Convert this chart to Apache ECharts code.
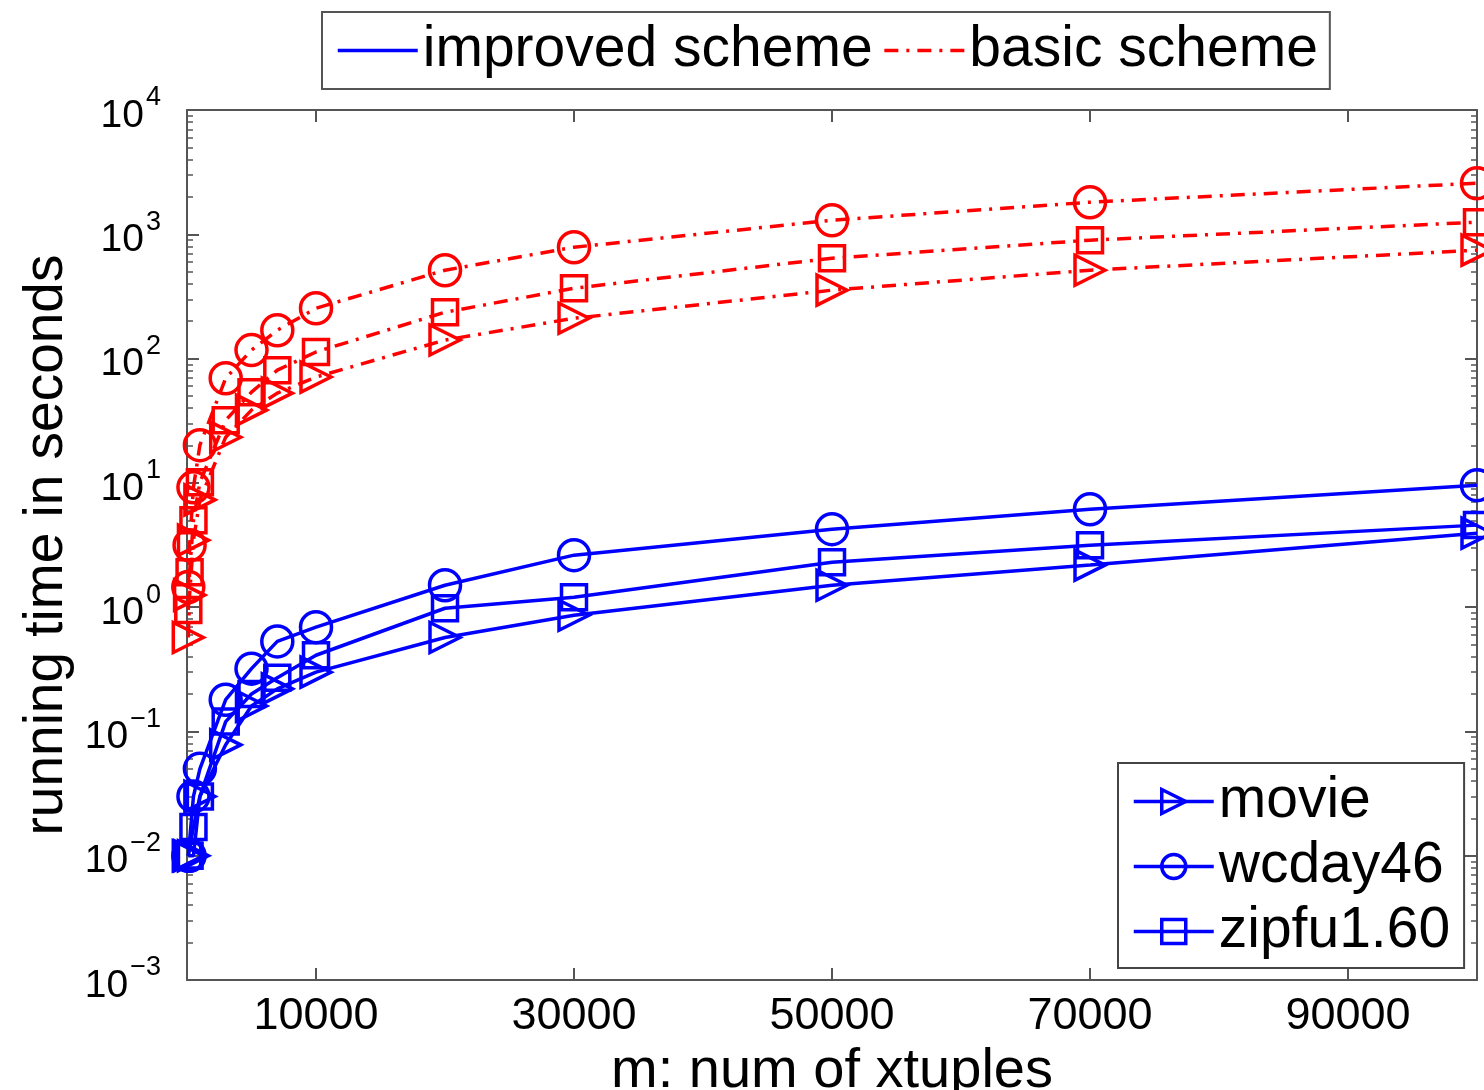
<!DOCTYPE html>
<html>
<head>
<meta charset="utf-8">
<script src="https://cdn.jsdelivr.net/npm/echarts@6/dist/echarts.min.js"></script>
<style>
    html, body { margin: 0; padding: 0; background: #fff; }
    #chart { width: 1484px; height: 1090px; }
</style>
</head>
<body>
<div id="chart"></div>
<script>
// m values (number of xtuples)
var xValues = [100, 200, 500, 1000, 3000, 5000, 7000, 10000, 20000, 30000, 50000, 70000, 100000];

// improved scheme (blue, solid)
var movieImproved = [0.01, 0.01, 0.01, 0.03, 0.078, 0.16, 0.22, 0.30, 0.57, 0.86, 1.50, 2.18, 3.94];
var wcdayImproved = [0.01, 0.01, 0.03, 0.05, 0.18, 0.32, 0.53, 0.69, 1.50, 2.62, 4.24, 6.14, 9.58];
var zipfuImproved = [0.01, 0.01, 0.017, 0.03, 0.12, 0.20, 0.27, 0.41, 0.98, 1.20, 2.30, 3.15, 4.57];

// basic scheme (red, dash-dot)
var movieBasic = [0.57, 1.25, 3.46, 7.3, 23.3, 38.5, 52.7, 71, 141, 211, 355, 514, 745];
var wcdayBasic = [1.45, 3.15, 9.2, 20.1, 69.5, 117, 169, 254, 514, 787, 1298, 1812, 2577];
var zipfuBasic = [0.95, 1.91, 5.0, 10.1, 31.9, 53.7, 80.7, 113, 236, 368, 642, 897, 1251];

var xTicks = [10000, 30000, 50000, 70000, 90000];
var yTicks = [0.001, 0.01, 0.1, 1, 10, 100, 1000, 10000];
var yMinorTicks = [];
yTicks.slice(0, -1).forEach(function (t) {
    for (var k = 2; k <= 9; k++) {
        yMinorTicks.push(+(t * k).toPrecision(3));
    }
});

var BLUE = "#0000ff";
var RED = "#ff0000";
var AXIS = "#555";
var FONT = "Liberation Sans, Arial, Helvetica, sans-serif";
var DASHDOT = [14, 8, 3, 8];
var LINE_W = 3.5;
var NO_MARK = { color: "rgba(0,0,0,0)", borderColor: "rgba(0,0,0,0)", borderWidth: 0 };

function pairs(ys) {
    return xValues.map(function (x, i) {
        return [x, ys[i]];
    });
}

function expLabel(v) {
    var e = Math.round(Math.log10(v));
    return "{b|10}{s|" + (e < 0 ? "\u2212" + (-e) : e) + "}";
}

var markers = {
    movie: { symbol: "triangle", rotate: -90, size: 30 },
    wcday46: { symbol: "circle", rotate: 0, size: 31 },
    "zipfu1.60": { symbol: "rect", rotate: 0, size: 25 }
};

function dataSeries(name, key, ys, color, dashed) {
    var m = markers[key];
    return {
        name: name,
        type: "line",
        xAxisIndex: 0,
        yAxisIndex: 0,
        data: pairs(ys),
        symbol: m.symbol,
        symbolRotate: m.rotate,
        symbolSize: m.size,
        showAllSymbol: true,
        color: color,
        itemStyle: { color: "rgba(0,0,0,0)", borderColor: color, borderWidth: 3.5 },
        lineStyle: { color: color, width: LINE_W, type: dashed ? DASHDOT : "solid" },
        emphasis: { disabled: true },
        animation: false,
        z: dashed ? 3 : 4
    };
}

function legendItem(name) {
    return {
        name: name,
        itemStyle: { color: "rgba(0,0,0,0)", borderColor: BLUE, borderWidth: 3.5 },
        lineStyle: { color: BLUE, width: LINE_W }
    };
}

var chart = echarts.init(document.getElementById("chart"), null, { renderer: "canvas" });

var tickInside = { show: true, inside: true, length: 12, lineStyle: { color: AXIS, width: 2 } };
var minorInside = { show: true, inside: true, length: 6, lineStyle: { color: AXIS, width: 1.5 } };

chart.setOption({
    backgroundColor: "#fff",
    animation: false,
    textStyle: { fontFamily: FONT },
    grid: { left: 187, right: 7, top: 110, bottom: 110, containLabel: false, outerBoundsMode: "none" },
    legend: [
        {
            data: [
                { name: "improved scheme", itemStyle: NO_MARK, lineStyle: { color: BLUE, width: LINE_W } },
                { name: "basic scheme", itemStyle: NO_MARK, lineStyle: { color: RED, width: LINE_W, type: DASHDOT } }
            ],
            left: 322,
            top: 12,
            padding: [10, 12, 10, 14],
            itemWidth: 80,
            itemHeight: 24,
            itemGap: 10,
            borderColor: "#555",
            borderWidth: 2,
            backgroundColor: "#fff",
            selectedMode: false,
            textStyle: { fontSize: 57, color: "#000", fontFamily: FONT }
        },
        {
            data: [legendItem("movie"), legendItem("wcday46"), legendItem("zipfu1.60")],
            orient: "vertical",
            left: 1118,
            top: 763,
            padding: [10, 14, 8, 14],
            itemWidth: 80,
            itemHeight: 30,
            itemGap: 8,
            borderColor: "#444",
            borderWidth: 2,
            backgroundColor: "#fff",
            selectedMode: false,
            textStyle: { fontSize: 57, color: "#000", fontFamily: FONT }
        }
    ],
    xAxis: [
        {
            type: "value",
            min: 0,
            max: 100000,
            position: "bottom",
            name: "m: num of xtuples",
            nameLocation: "middle",
            nameGap: 58,
            nameTextStyle: { fontSize: 56, color: "#000", fontFamily: FONT, verticalAlign: "top" },
            axisLine: { show: true, lineStyle: { color: AXIS, width: 2 } },
            axisTick: Object.assign({ customValues: xTicks }, tickInside),
            axisLabel: {
                customValues: xTicks,
                formatter: function (v) { return String(v); },
                fontSize: 45,
                color: "#000",
                margin: 14,
                fontFamily: FONT
            },
            splitLine: { show: false }
        },
        {
            type: "value",
            min: 0,
            max: 100000,
            position: "top",
            axisLine: { show: true, lineStyle: { color: AXIS, width: 2 } },
            axisTick: Object.assign({ customValues: xTicks }, tickInside),
            axisLabel: { show: false },
            splitLine: { show: false }
        }
    ],
    yAxis: [
        {
            type: "log",
            logBase: 10,
            min: 0.001,
            max: 10000,
            position: "left",
            name: "running time in seconds",
            nameLocation: "middle",
            nameGap: 100,
            nameTextStyle: { fontSize: 55, color: "#000", fontFamily: FONT },
            axisLine: { show: true, lineStyle: { color: AXIS, width: 2 } },
            axisTick: Object.assign({ customValues: yTicks }, tickInside),
            axisLabel: {
                customValues: yTicks,
                formatter: expLabel,
                margin: 26,
                rich: {
                    b: { fontSize: 39, color: "#000", fontFamily: FONT, verticalAlign: "bottom", lineHeight: 40 },
                    s: { fontSize: 27, color: "#000", fontFamily: FONT, verticalAlign: "top", padding: [0, 0, 24, 2] }
                }
            },
            splitLine: { show: false }
        },
        {
            type: "log",
            logBase: 10,
            min: 0.001,
            max: 10000,
            position: "left",
            axisLine: { show: false },
            axisTick: Object.assign({ customValues: yMinorTicks }, minorInside),
            axisLabel: { show: false },
            splitLine: { show: false }
        },
        {
            type: "log",
            logBase: 10,
            min: 0.001,
            max: 10000,
            position: "right",
            axisLine: { show: true, lineStyle: { color: AXIS, width: 2 } },
            axisTick: Object.assign({ customValues: yTicks }, tickInside),
            axisLabel: { show: false },
            splitLine: { show: false }
        },
        {
            type: "log",
            logBase: 10,
            min: 0.001,
            max: 10000,
            position: "right",
            axisLine: { show: false },
            axisTick: Object.assign({ customValues: yMinorTicks }, minorInside),
            axisLabel: { show: false },
            splitLine: { show: false }
        }
    ],
    series: [
        dataSeries("movie basic", "movie", movieBasic, RED, true),
        dataSeries("wcday46 basic", "wcday46", wcdayBasic, RED, true),
        dataSeries("zipfu1.60 basic", "zipfu1.60", zipfuBasic, RED, true),
        dataSeries("movie", "movie", movieImproved, BLUE, false),
        dataSeries("wcday46", "wcday46", wcdayImproved, BLUE, false),
        dataSeries("zipfu1.60", "zipfu1.60", zipfuImproved, BLUE, false),
        { name: "improved scheme", type: "line", data: [], symbol: "none", color: BLUE, lineStyle: { color: BLUE, width: LINE_W } },
        { name: "basic scheme", type: "line", data: [], symbol: "none", color: RED, lineStyle: { color: RED, width: LINE_W, type: DASHDOT } }
    ]
});
</script>
</body>
</html>
